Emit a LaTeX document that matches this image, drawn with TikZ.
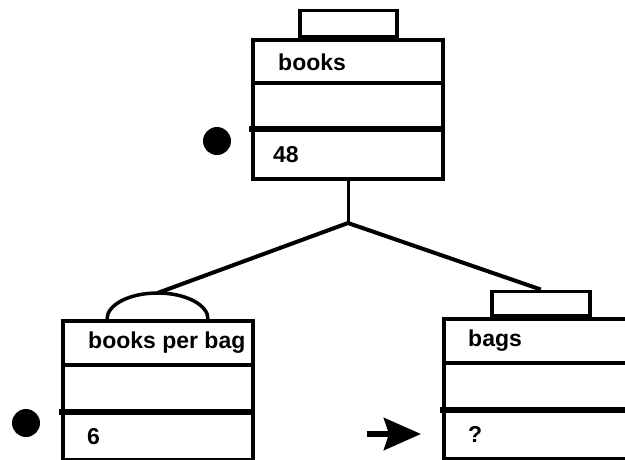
\documentclass[tikz,border=0pt]{standalone}
\usepackage{fontspec}
\setmainfont{Liberation Sans}
\usetikzlibrary{arrows.meta}
\begin{document}
\begin{tikzpicture}[x=1pt,y=-1pt,
  boxline/.style={line width=3.5pt},
  thickdiv/.style={line width=6pt},
  thindiv/.style={line width=3.5pt},
  conn/.style={line width=4pt},
  stub/.style={line width=3pt},
  framebox/.style={draw, line width=3.5pt, inner sep=0pt, anchor=north west},
  lbl/.style={anchor=west, inner sep=0pt, font=\fontsize{23}{23}\selectfont\bfseries},
  dotmark/.style={fill=black, circle, inner sep=0pt, minimum size=28pt},
  tabbox/.style={draw, line width=3.5pt, inner sep=0pt, anchor=south west}
]
\useasboundingbox (0,0) rectangle (625,459);
\clip (0,0) rectangle (625,459);

% top box
\node[framebox, minimum width=190pt, minimum height=139pt] (topbox) at (251,38) {};
\node[tabbox, minimum width=97pt, minimum height=26pt] (toptab) at (298,38) {};
\draw[thindiv] (251,83) -- (441,83);
\draw[thickdiv] (249,129) -- (441,129);
\node[lbl] (toplabel) at (278,62) {books};
\node[lbl] (topvalue) at (273,155) {48};
\node[dotmark] (topdot) at (217,141) {};

% junction
\coordinate (j) at (348,223);
\draw[stub] (topbox.south -| j) -- (j);

% left box
\node[framebox, minimum width=190pt, minimum height=139pt] (leftbox) at (61,319) {};
\draw[boxline] (107,319) arc[start angle=180, end angle=0, x radius=50.5pt, y radius=26pt];
\coordinate (lefttab) at (157.5,293);
\draw[thindiv] (61,365) -- (251,365);
\draw[thickdiv] (59,412) -- (251,412);
\node[lbl] (leftlabel) at (88,343) {books per bag};
\node[lbl] (leftvalue) at (87,437) {6};
\node[dotmark] (leftdot) at (26,423) {};

% right box
\node[framebox, minimum width=250pt, minimum height=140pt] (rightbox) at (442,317) {};
\node[tabbox, minimum width=98pt, minimum height=24pt] (righttab) at (490,317) {};
\draw[thindiv] (442,363) -- (640,363);
\draw[thickdiv] (440,410) -- (640,410);
\node[lbl] (rightlabel) at (468,341) {bags};
\node[lbl] (rightvalue) at (468,434) {?};

% connectors
\draw[conn, line join=round] (lefttab) -- (j) -- (righttab.north);

% pointer arrow
\coordinate (arrowstart) at (367,434);
\coordinate (arrowend) at (421,434);
\draw[line width=6pt, -{Stealth[length=37pt, width=32pt, inset=5pt]}] (arrowstart) -- (arrowend);
\end{tikzpicture}
\end{document}
